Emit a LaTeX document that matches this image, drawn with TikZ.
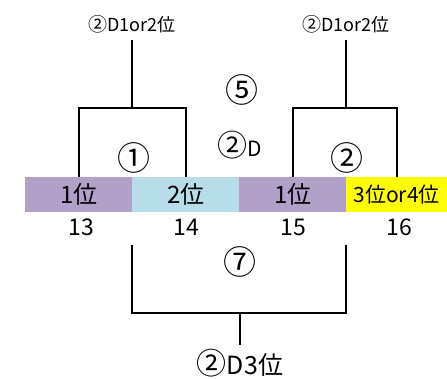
\documentclass[tikz,border=0pt]{standalone}
\usepackage{fontspec}
\setmainfont{Noto Sans CJK JP}
\usetikzlibrary{positioning}

\definecolor{lav}{HTML}{B1A0C7}
\definecolor{lblue}{HTML}{B7DDE8}
\definecolor{yel}{HTML}{FFFF00}

\newcommand{\fs}[1]{\fontsize{#1}{#1}\selectfont}

\tikzset{
  cell/.style={minimum height=35pt, inner sep=0pt, anchor=west, font=\fs{24}},
  seed/.style={font=\fs{23}},
  toplab/.style={font=\fs{18}, inner sep=1pt},
  matchno/.style={font=\fs{33}, inner sep=0pt},
  brk/.style={line width=2.4pt}
}

\begin{document}
\begin{tikzpicture}[x=1pt,y=1pt]
    \useasboundingbox (0,0) rectangle (447,379);
    % group row
    \node[cell, fill=lav, minimum width=107pt] (b13) at (25,184.5) {1位};
    \node[cell, fill=lblue, minimum width=107pt] (b14) at (132,184.5) {2位};
    \node[cell, fill=lav, minimum width=107pt] (b15) at (239,184.5) {1位};
    \node[cell, fill=yel, minimum width=101pt, font=\fs{21}] (b16) at (346,184.5) {3位or4位};
    % numbers
    \node[seed] (n13) at (81,152) {13};
    \node[seed] (n14) at (186,152) {14};
    \node[seed] (n15) at (293,152) {15};
    \node[seed] (n16) at (399,152) {16};
    % upper brackets
    \coordinate (j1) at (132,271);
    \coordinate (j2) at (346,271);
    \coordinate (t1) at (132,339);
    \coordinate (t2) at (346,339);
    \draw[brk] (b13.north) |- (j1) -| (b14.north);
    \draw[brk] (b15.north) |- (j2) -| (b16.north);
    \draw[brk] (j1) -- (t1);
    \draw[brk] (j2) -- (t2);
    \node[toplab, above=6pt of t1] (w1) {{\fs{19}②}D1or2位};
    \node[toplab, above=6pt of t2] (w2) {{\fs{19}②}D1or2位};
    % lower bracket
    \coordinate (d1) at (132,134);
    \coordinate (d2) at (346,134);
    \coordinate (j3) at (240,66);
    \coordinate (t3) at (240,34);
    \draw[brk] (d1) |- (j3) -| (d2);
    \draw[brk] (j3) -- (t3);
    \node[font=\fs{25}, below=1pt of t3] (w3) {{\fs{30}②}D3位};
    % match marks
    \node[matchno] (m1) at (134,221) {①};
    \node[matchno] (m2) at (347,221) {②};
    \node[matchno] (m5) at (242,289) {⑤};
    \node[matchno] (m7) at (240,117) {⑦};
    \node[font=\fs{21}, inner sep=0pt] (grp) at (240,234) {{\fs{30}②}D};
\end{tikzpicture}
\end{document}
